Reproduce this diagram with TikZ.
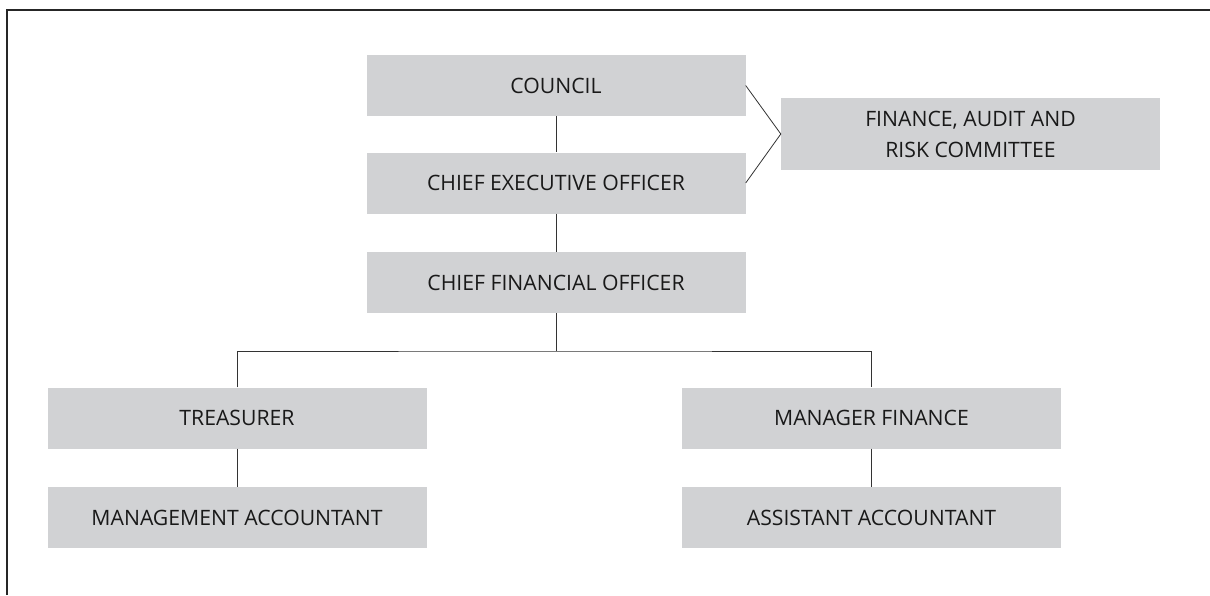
\documentclass[tikz,border=0pt]{standalone}
\usepackage{fontspec}
\setmainfont{Open Sans}
\definecolor{boxgray}{RGB}{209,210,212}
\begin{document}
\begin{tikzpicture}[x=1pt,y=-1pt,thin]
    
    \useasboundingbox (0,0) rectangle (1210,595);
    
    % ============================
    % Frame
    % ============================
    
    \draw[line width=1.6pt,black!85] (7,595) -- (7,10) -- (1210,10);
    
    % ============================
    % Top: Council and officers
    % ============================
    
    \tikzstyle{post}=[rectangle,fill=boxgray,inner sep=4pt,
            minimum width=379pt,minimum height=61pt,text=black!90,
            font=\fontsize{21.2}{31}\selectfont,align=center]
    \tikzstyle{link}=[line width=0.8pt,black!80]
    
    \node[post] (council) at (556,85.5) {COUNCIL};
    \node[post] (ceo) at (556,183) {CHIEF EXECUTIVE OFFICER};
    \node[post] (cfo) at (556,282.5) {CHIEF FINANCIAL OFFICER};
    \node[post,minimum height=72pt] (farc) at (970.5,134)
            {FINANCE, AUDIT AND\\RISK COMMITTEE};
    
    \draw[link] (council) -- (ceo);
    \draw[link] (ceo) -- (cfo);
    \draw[link] (council.east) -- (farc.west) -- (ceo.east);
    
    % ============================
    % Bottom: Two branches
    % ============================
    
    \node[post] (treas) at (237,418) {TREASURER};
    \node[post] (mgmt) at (237,517.5) {MANAGEMENT ACCOUNTANT};
    \node[post] (mfin) at (871.5,418) {MANAGER FINANCE};
    \node[post] (asst) at (871.5,517.5) {ASSISTANT ACCOUNTANT};
    
    \coordinate (split) at (556,351);
    \draw[link] (cfo) -- (split);
    \draw[link] (treas.north) |- (split) -| (mfin.north);
    \draw[link] (treas) -- (mgmt);
    \draw[link] (mfin) -- (asst);
    
\end{tikzpicture}
\end{document}
